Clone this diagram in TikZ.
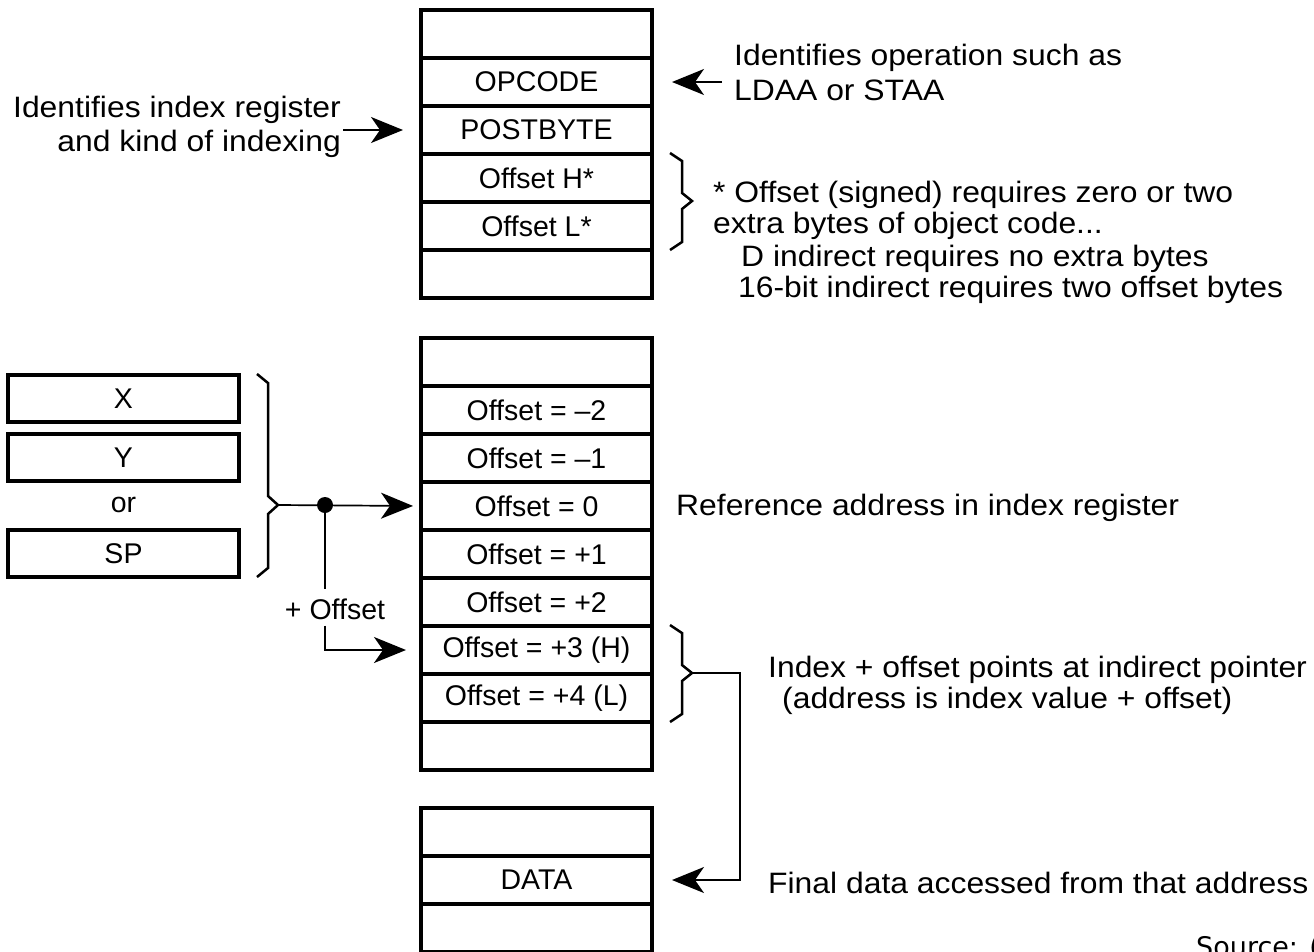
\documentclass[tikz,border=0pt]{standalone}
\usepackage{fontspec}
\setmainfont{Liberation Sans}
\newfontfamily\annfont[FakeStretch=1.08]{Liberation Sans}
\newfontfamily\srcfont{DejaVu Sans}
\usetikzlibrary{arrows.meta}
\begin{document}
\begin{tikzpicture}[x=1pt,y=-1pt,
  font=\fontsize{28.5}{34}\selectfont,
  cell/.style={draw, line width=3.5pt, minimum width=231pt, minimum height=48pt, inner sep=0pt, outer sep=0pt},
  reg/.style={draw, line width=3.5pt, minimum width=231pt, minimum height=47pt, inner sep=0pt, outer sep=0pt},
  lbl/.style={anchor=base west, inner sep=0pt, font=\annfont\fontsize{29.5}{34}\selectfont},
  lblr/.style={anchor=base east, inner sep=0pt, font=\annfont\fontsize{29.5}{34}\selectfont},
  conn/.style={line width=1.7pt},
  bigarrow/.style={-{Stealth[length=32pt,width=26pt,inset=9pt]}},
  bracestyle/.style={line width=2.5pt, line join=miter}]
\useasboundingbox (0,0) rectangle (1314,951);

% top block
\node[cell] (t0) at (536.5,34) {};
\node[cell] (t1) at (536.5,82) {OPCODE};
\node[cell] (t2) at (536.5,130) {POSTBYTE};
\node[cell] (t3) at (536.5,178) {Offset H*};
\node[cell] (t4) at (536.5,226) {Offset L*};
\node[cell] (t5) at (536.5,274) {};

% middle block
\node[cell] (m0) at (536.5,362) {};
\node[cell] (m1) at (536.5,410) {Offset = –2};
\node[cell] (m2) at (536.5,458) {Offset = –1};
\node[cell] (m3) at (536.5,506) {Offset = 0};
\node[cell] (m4) at (536.5,554) {Offset = +1};
\node[cell] (m5) at (536.5,602) {Offset = +2};
\node[cell] (m6) at (536.5,650) {Offset = +3 (H)};
\node[cell] (m7) at (536.5,698) {Offset = +4 (L)};
\node[cell] (m8) at (536.5,746) {};

% bottom block
\node[cell] (b0) at (536.5,832) {};
\node[cell] (b1) at (536.5,880) {DATA};
\node[cell] (b2) at (536.5,928) {};

% registers
\node[reg] (rx) at (123.5,398.5) {X};
\node[reg] (ry) at (123.5,457.5) {Y};
\node[inner sep=0pt] (ror) at (123.5,505) {or};
\node[reg] (rsp) at (123.5,553.5) {SP};

% braces
\draw[bracestyle] (257,374) -- (268,383) -- (268,496) -- (278,505) -- (268,514) -- (268,568) -- (257,577);
\coordinate (lb) at (278,505);
\draw[bracestyle] (670,153) -- (682,161) -- (682,193) -- (692,201) -- (682,209) -- (682,242) -- (670,250);
\draw[bracestyle] (670,625) -- (682,633) -- (682,665) -- (692,673) -- (682,681) -- (682,714) -- (670,722);
\coordinate (bb) at (692,673);

% register -> reference
\coordinate (j) at (325,505);
\draw[conn, bigarrow, shorten >=8pt] (lb) -- (m3.west);
\fill (j) circle (8pt);
\node[inner sep=0pt] (off) at (335,609) {+ Offset};
\draw[conn] (j) -- ([yshift=9pt]off.north -| j);
\draw[conn, bigarrow, shorten >=15pt] ([yshift=-6pt]off.south -| j) |- (m6.west);

% annotation arrows
\coordinate (a1) at (343,130);
\draw[conn, bigarrow, shorten >=18pt] (a1) -- (t2.west);
\coordinate (a2) at (722,82);
\draw[conn, bigarrow, shorten >=20pt] (a2) -- (t1.east);
\coordinate (a3) at (740,673);
\draw[conn, bigarrow, shorten >=20pt] (bb) -- (a3) |- (b1.east);

% texts
\node[lblr] (l1) at (341,117) {Identifies index register};
\node[lblr] (l2) at (341,151) {and kind of indexing};
\node[lbl] (r1) at (734,65) {Identifies operation such as};
\node[lbl] (r2) at (734,100) {LDAA or STAA};
\node[lbl] (n1) at (713,202) {* Offset (signed) requires zero or two};
\node[lbl] (n2) at (713,233) {extra bytes of object code...};
\node[lbl] (n3) at (741,266) {D indirect requires no extra bytes};
\node[lbl] (n4) at (738,297) {16-bit indirect requires two offset bytes};
\node[lbl] (ref) at (676,515) {Reference address in index register};
\node[lbl] (i1) at (768,677) {Index + offset points at indirect pointer};
\node[lbl] (i2) at (782,708) {(address is index value + offset)};
\node[lbl] (fin) at (768,893) {Final data accessed from that address};
\node[anchor=base west, inner sep=0pt, font=\srcfont\fontsize{27}{32}\selectfont] (src) at (1196,956) {Source: (};
\end{tikzpicture}
\end{document}
